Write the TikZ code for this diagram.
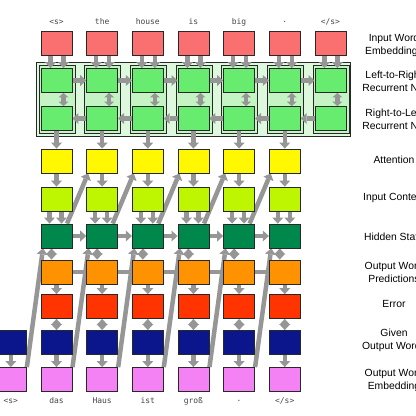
\documentclass[tikz,border=0pt]{standalone}
\usepackage{fontspec}
\setmainfont{Liberation Sans}
\newfontfamily\wordfont{DejaVu Sans Mono}
\usetikzlibrary{arrows.meta}
\definecolor{cin}{RGB}{250,112,112}
\definecolor{cgreen}{RGB}{104,236,112}
\definecolor{cencl}{RGB}{222,248,222}
\definecolor{ccol}{RGB}{196,244,196}
\definecolor{catt}{RGB}{255,248,0}
\definecolor{cctx}{RGB}{190,245,0}
\definecolor{chid}{RGB}{0,136,76}
\definecolor{cpred}{RGB}{255,146,0}
\definecolor{cerr}{RGB}{255,52,0}
\definecolor{cgiv}{RGB}{12,22,140}
\definecolor{cemb}{RGB}{245,130,245}
\definecolor{agray}{RGB}{150,150,150}
\definecolor{edge}{RGB}{40,40,40}
\definecolor{wgray}{RGB}{70,70,70}
\pgfdeclarelayer{bgw}
\pgfdeclarelayer{encl}
\pgfdeclarelayer{arr}
\pgfsetlayers{bgw,encl,arr,main}
\tikzset{
  gh/.tip={Triangle[width=11bp,length=6bp,line width=0pt]},
  box/.style={draw=edge,line width=0.8bp,minimum width=31bp,minimum height=24bp,inner sep=0pt},
  garrow/.style={draw=agray,line width=4.5bp,-gh},
  gdbl/.style={draw=agray,line width=4.5bp,gh-gh},
  gline/.style={draw=agray,line width=4.5bp},
  wordlbl/.style={text=wgray,font=\wordfont\fontsize{8}{9}\selectfont,inner sep=0pt},
  lbl/.style={align=center,font=\fontsize{10.4}{13}\selectfont,inner sep=0pt}
}
\begin{document}
\begin{tikzpicture}[x=1bp,y=-1bp]
\useasboundingbox (0,0) rectangle (416,416);
\clip (0,0) rectangle (416,416);
\begin{pgfonlayer}{bgw}
  \fill[white] (0,0) rectangle (416,416);
\end{pgfonlayer}
% encoder
\foreach \i/\w in {0/{<s>},1/the,2/house,3/is,4/big,5/.,6/{</s>}} {
  \pgfmathsetmacro\cx{56.5+45.65*\i}
  \node[box,fill=cin] (in\i) at (\cx,43.5) {};
  \node[wordlbl] (w\i) at (\cx,22) {\w};
  \node[box,fill=cgreen] (l\i) at (\cx,80.5) {};
  \node[box,fill=cgreen] (r\i) at (\cx,118.5) {};
  \begin{pgfonlayer}{encl}
    \draw[draw=edge,line width=0.7bp,fill=ccol] (\cx-17.5,65) rectangle (\cx+18.5,133);
  \end{pgfonlayer}
}
\begin{pgfonlayer}{bgw}
  \draw[draw=edge,line width=0.8bp,fill=cencl] (36,62) rectangle (350,136);
\end{pgfonlayer}
% decoder columns
\foreach \j in {1,...,6} {
  \pgfmathsetmacro\cx{56.5+45.65*(\j-1)}
  \node[box,fill=catt] (att\j) at (\cx,161) {};
  \node[box,fill=cctx] (ctx\j) at (\cx,199) {};
  \node[box,fill=chid] (hid\j) at (\cx,236) {};
  \node[box,fill=cpred] (pred\j) at (\cx,272) {};
  \node[box,fill=cerr] (err\j) at (\cx,306.5) {};
}
\foreach \j/\w in {0/{<s>},1/das,2/Haus,3/ist,4/groß,5/.,6/{</s>}} {
  \pgfmathsetmacro\cx{56.5+45.65*(\j-1)}
  \node[box,fill=cgiv] (giv\j) at (\cx,342.5) {};
  \node[box,fill=cemb] (emb\j) at (\cx,379.5) {};
  \node[wordlbl] (o\j) at (\cx,401) {\w};
}
% arrows
\begin{pgfonlayer}{arr}
\foreach \i in {0,...,6} {
  \draw[garrow] ([xshift=-6bp]in\i.south) -- ([xshift=-6bp]l\i.north);
  \draw[garrow] ([xshift=7bp]in\i.south) -- ([xshift=7bp]l\i.north);
  \draw[draw=agray,line width=4.5bp,{Triangle[width=10bp,length=4.5bp,line width=0pt]}-{Triangle[width=10bp,length=4.5bp,line width=0pt]}] ([xshift=7bp]l\i.south) -- ([xshift=7bp]r\i.north);
}
\foreach \i in {0,...,5} {
  \pgfmathtruncatemacro\k{\i+1}
  \draw[garrow] (l\i.east) -- (l\k.west);
  \draw[garrow] (r\k.west) -- (r\i.east);
}
\foreach \j in {1,...,6} {
  \pgfmathtruncatemacro\i{\j-1}
  \draw[garrow] (r\i.south) -- (att\j.north);
  \draw[garrow] (att\j.south) -- (ctx\j.north);
  \draw[garrow] ([xshift=-7bp]ctx\j.south) -- ([xshift=-7bp]hid\j.north);
  \draw[garrow] ([xshift=5bp]ctx\j.south) -- ([xshift=5bp]hid\j.north);
  \draw[gdbl] ([xshift=-5bp]hid\j.south) -- ([xshift=-5bp]pred\j.north);
  \draw[garrow] (pred\j.south) -- (err\j.north);
  \draw[gdbl] (giv\j.north) -- (err\j.south);
}
\foreach \j in {0,...,6} {
  \draw[garrow] (giv\j.south) -- (emb\j.north);
}
\foreach \j in {1,...,5} {
  \pgfmathtruncatemacro\k{\j+1}
  \draw[garrow] (hid\j.east) -- (hid\k.west);
  \draw[garrow] ([xshift=10.5bp]hid\j.north) -- ([xshift=-14bp]att\k.south);
  \draw[gline] (pred\j.east) -- (pred\k.west);
}
\foreach \j in {0,...,5} {
  \pgfmathtruncatemacro\k{\j+1}
  \draw[garrow] ([xshift=16bp]emb\j.north) -- ([xshift=-13.5bp]hid\k.south);
}
\end{pgfonlayer}
% row labels
\node[lbl] (t1) at (394,45) {Input Word\\Embeddings};
\node[lbl] (t2) at (394,81.5) {Left-to-Right\\Recurrent NN};
\node[lbl] (t3) at (394,119.5) {Right-to-Left\\Recurrent NN};
\node[lbl] (t4) at (394,160) {Attention};
\node[lbl] (t5) at (394,198) {Input Context};
\node[lbl] (t6) at (394,237) {Hidden State};
\node[lbl] (t7) at (394,272) {Output Word\\Predictions};
\node[lbl] (t8) at (394,304) {Error};
\node[lbl] (t9) at (394,340.5) {Given\\Output Words};
\node[lbl] (t10) at (394,380) {Output Word\\Embedding};
\end{tikzpicture}
\end{document}
